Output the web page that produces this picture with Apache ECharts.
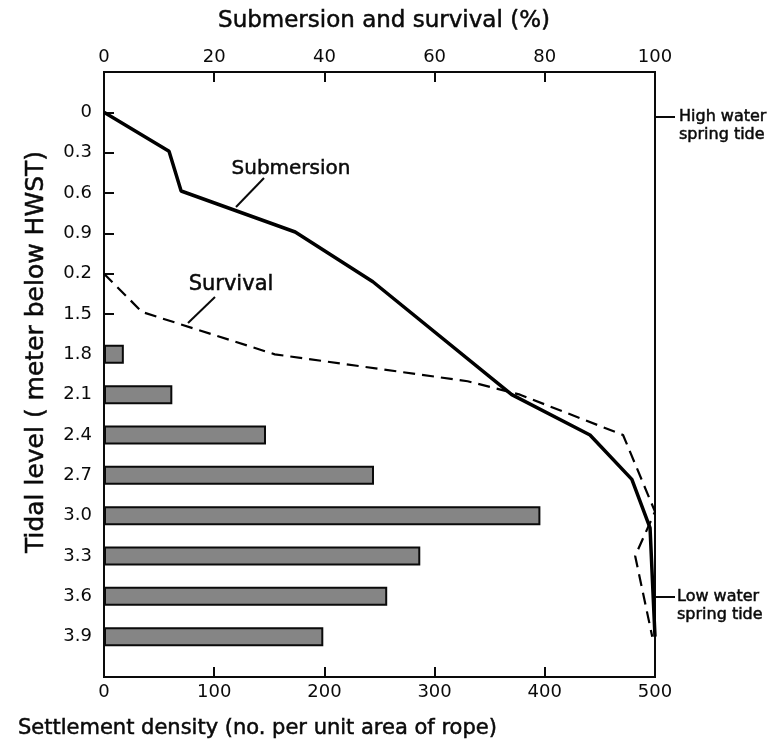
<!DOCTYPE html>
<html>
<head>
<meta charset="UTF-8">
<title>Tidal level - submersion, survival, settlement</title>
<script src="https://cdn.jsdelivr.net/npm/echarts@6/dist/echarts.min.js"></script>
<style>
  html, body { margin: 0; padding: 0; background: #fff; }
  #chart { width: 770px; height: 745px; }
</style>
</head>
<body>
<div id="chart"></div>
<script>
// tidal level axis, as printed (the 5th label is printed "0.2")
const levelLabels = ['0', '0.3', '0.6', '0.9', '0.2', '1.5', '1.8', '2.1', '2.4', '2.7', '3.0', '3.3', '3.6', '3.9'];
// settlement density (no. per unit area of rope)
const densityLevels = ['1.8', '2.1', '2.4', '2.7', '3.0', '3.3', '3.6', '3.9'];
const densityValues = [18, 62, 147, 245, 396, 287, 257, 199];
// submersion (%) against depth (m below HWST)
const submersionPct = [0, 11.8, 14, 34.7, 48.8, 74, 88.2, 95.8, 99.1, 100];
const submersionDepth = [0, 0.29, 0.585, 0.89, 1.26, 2.1, 2.4, 2.73, 3.09, 3.9];
// survival (%) against depth
const survivalPct = [0, 6.9, 31, 66, 75.5, 94.2, 100, 96.4, 99.5];
const survivalDepth = [1.2, 1.485, 1.8, 2.0, 2.1, 2.4, 2.97, 3.3, 3.9];

const FONT = 'DejaVu Sans';
const INK = '#0a0a0a';

// one empty slot above and below the printed levels
const cats = [''].concat(levelLabels, ['']);
const barData = cats.map(c => {
    const i = densityLevels.indexOf(c);
    return i < 0 ? null : densityValues[i];
});
const pairs = (xs, ys) => xs.map((x, i) => [x, ys[i]]);

const chart = echarts.init(document.getElementById('chart'));

const tickLabel = { color: INK, fontFamily: FONT, fontSize: 18 };
const axisLine = { show: true, onZero: false, lineStyle: { color: INK, width: 2 } };
const tick = { show: true, inside: true, length: 10, lineStyle: { color: INK, width: 2 } };

// lettering in the figure is a bit heavier than a regular face: thin outline on the text
function txt(text, x, y, size, align, extra) {
    return Object.assign({
        type: 'text', x: x, y: y,
        style: {
            text: text, fill: INK, stroke: INK, lineWidth: 0.5,
            font: size + 'px "' + FONT + '"', textAlign: align || 'center', textVerticalAlign: 'middle'
        }
    }, extra || {});
}
function seg(x1, y1, x2, y2, w) {
    return { type: 'line', shape: { x1: x1, y1: y1, x2: x2, y2: y2 }, style: { stroke: INK, lineWidth: w || 2 } };
}

chart.setOption({
    animation: false,
    backgroundColor: '#fff',
    grid: { left: 104, right: 115, top: 72, bottom: 68, show: true, borderColor: INK, borderWidth: 2 },
    xAxis: [
        {
            type: 'value', position: 'bottom', min: 0, max: 500, interval: 100,
            axisLine: axisLine, axisTick: tick, splitLine: { show: false },
            axisLabel: Object.assign({ margin: 6 }, tickLabel)
        },
        {
            type: 'value', position: 'top', min: 0, max: 100, interval: 20,
            axisLine: axisLine, axisTick: tick, splitLine: { show: false },
            axisLabel: Object.assign({ margin: 6 }, tickLabel)
        }
    ],
    yAxis: [
        {
            type: 'category', data: cats, inverse: true, boundaryGap: false,
            axisLine: axisLine,
            axisTick: Object.assign({ interval: 0 }, tick),
            axisLabel: Object.assign({ margin: 12, interval: 0 }, tickLabel)
        },
        { type: 'value', inverse: true, min: -0.3, max: 4.2, show: false }
    ],
    series: [
        {
            name: 'Settlement density', type: 'bar', xAxisIndex: 0, yAxisIndex: 0,
            data: barData, barWidth: 19,
            itemStyle: { color: '#858585', borderColor: INK, borderWidth: 2 }
        },
        {
            name: 'Submersion', type: 'line', xAxisIndex: 1, yAxisIndex: 1,
            data: pairs(submersionPct, submersionDepth), symbol: 'none',
            lineStyle: { color: '#000', width: 3.5 }
        },
        {
            name: 'Survival', type: 'line', xAxisIndex: 1, yAxisIndex: 1,
            data: pairs(survivalPct, survivalDepth), symbol: 'none',
            lineStyle: { color: '#000', width: 2.2, type: [12, 7] }
        }
    ],
    graphic: [
        txt('Submersion and survival (%)', 384, 21, 23),
        txt('Settlement density (no. per unit area of rope)', 18, 729, 21, 'left'),
        txt('Tidal level ( meter below HWST)', 36, 352, 25, 'center', { rotation: Math.PI / 2 }),
        txt('Submersion', 291, 169, 20),
        seg(264, 178, 236, 207),
        txt('Survival', 231, 285, 21),
        seg(215, 297, 188, 323),
        seg(655, 117, 675, 117),
        txt('High water', 679, 117, 16, 'left'),
        txt('spring tide', 679, 135, 16, 'left'),
        seg(655, 597, 675, 597),
        txt('Low water', 677, 597, 16, 'left'),
        txt('spring tide', 677, 615, 16, 'left')
    ]
});
</script>
</body>
</html>
